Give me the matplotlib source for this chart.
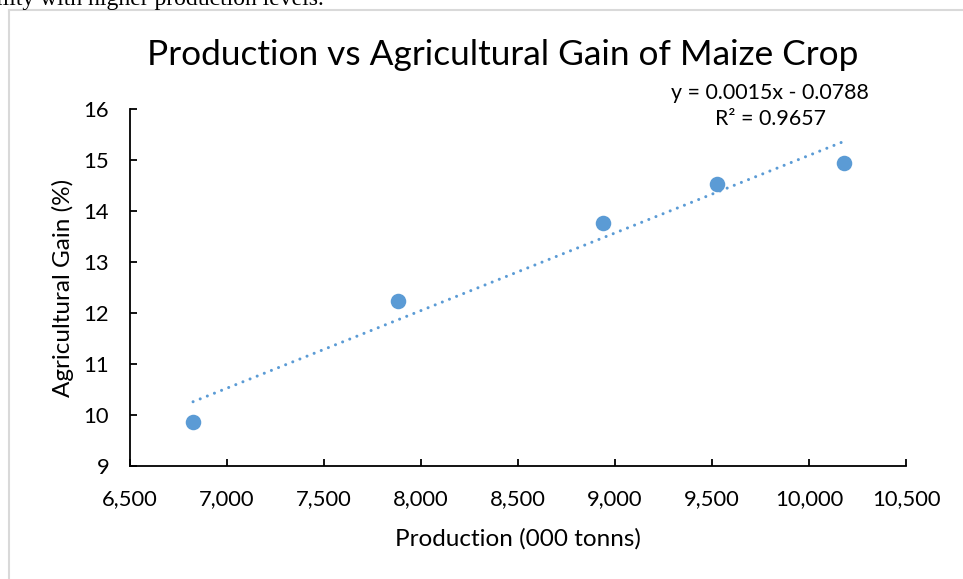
import matplotlib
matplotlib.use("Agg")
import matplotlib.pyplot as plt
from matplotlib.lines import Line2D
from matplotlib.ticker import FuncFormatter
import numpy as np

# Data
production = [6825, 7881, 8938, 9526, 10180]   # 000 tonns
gain = [9.87, 12.24, 13.76, 14.52, 14.95]       # %
x_ticks = [6500, 7000, 7500, 8000, 8500, 9000, 9500, 10000, 10500]
y_ticks = [9, 10, 11, 12, 13, 14, 15, 16]
equation = "y = 0.0015x - 0.0788"
r_squared = "R² = 0.9657"

blue = "#5B9BD5"
plt.rcParams['font.family'] = ['Lato', 'DejaVu Sans']

fig = plt.figure(figsize=(9.63, 5.79), dpi=100)
ax = fig.add_axes([0.135, 0.1952, 0.806, 0.6165])

# chart border (left and top edges visible) and text fragment above it
fig.add_artist(Line2D([9 / 963, 9 / 963], [0, 1 - 10 / 579], color="#d9d9d9",
                      lw=1.5, transform=fig.transFigure))
fig.add_artist(Line2D([9 / 963, 1], [1 - 10 / 579, 1 - 10 / 579], color="#d9d9d9",
                      lw=1.5, transform=fig.transFigure))
fig.text(-0.004, 1 - 5 / 579, "ility with higher production levels.",
         family="Liberation Serif", fontsize=17, va="baseline", ha="left")

# trendline
coef = np.polyfit(production, gain, 1)
xs = np.array([min(production), max(production)])
ax.plot(xs, np.polyval(coef, xs), color=blue, lw=2.2,
        linestyle=(0, (0.01, 2.5)), dash_capstyle="round", zorder=2)

ax.scatter(production, gain, s=125, color=blue, zorder=3, linewidths=0)

ax.set_xlim(6500, 10500)
ax.set_ylim(9, 16)
ax.set_xticks(x_ticks)
ax.set_yticks(y_ticks)
ax.xaxis.set_major_formatter(FuncFormatter(lambda v, p: f"{int(v):,}"))

for side in ["top", "right"]:
    ax.spines[side].set_visible(False)
for side in ["left", "bottom"]:
    ax.spines[side].set_linewidth(1.3)
ax.tick_params(direction="in", length=5, width=1.3, labelsize=15.8)
ax.tick_params(axis="x", pad=17)
ax.tick_params(axis="y", pad=15)

ax.set_xlabel("Production (000 tonns)", fontsize=17.5, labelpad=13)
ax.set_ylabel("Agricultural Gain (%)", fontsize=17.5, labelpad=7)

fig.text(0.522, 1 - 55 / 579, "Production vs Agricultural Gain of Maize Crop",
         fontsize=25.4, ha="center", va="center")
fig.text(0.80, 1 - 93 / 579, equation, fontsize=15.4, ha="center", va="center")
fig.text(0.80, 1 - 119 / 579, r_squared, fontsize=15.4, ha="center", va="center")

fig.savefig("out.png", dpi=100)
